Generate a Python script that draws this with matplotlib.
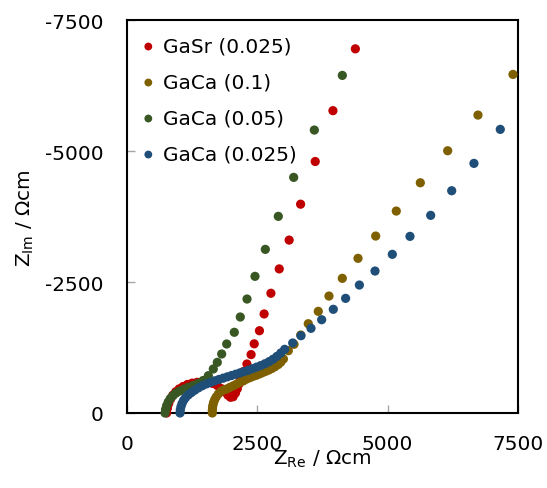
import matplotlib
matplotlib.use('Agg')
import matplotlib.pyplot as plt

plt.rcParams['font.family'] = ['DejaVu Sans']
plt.rcParams['mathtext.default'] = 'regular'
plt.rcParams['axes.unicode_minus'] = False

# Nyquist data (Z_Re, Z_Im) in Ohm cm
gasr_025_x = [760, 775, 800, 835, 880, 935, 1000, 1075, 1160, 1250, 1345, 1440, 1540, 1640,
              1730, 1810, 1880, 1935, 1985, 2035, 2080, 2115, 2145, 2175, 2230, 2300, 2380,
              2440, 2540, 2630, 2760, 2920, 3110, 3330, 3610, 3950, 4380]
gasr_025_y = [0, -90, -180, -265, -340, -405, -460, -505, -545, -570, -585, -590, -585, -565,
              -525, -465, -400, -340, -300, -310, -380, -460, -550, -650, -790, -935, -1115,
              -1320, -1570, -1890, -2285, -2750, -3300, -3985, -4800, -5770, -6950]

gaca_1_x = [1636, 1636, 1640, 1648, 1660, 1680, 1710, 1751, 1800, 1855, 1912, 1975, 2040, 2104,
            2170, 2235, 2296, 2360, 2420, 2480, 2540, 2600, 2660, 2720, 2780, 2840, 2900, 2950,
            3000, 3094, 3203, 3332, 3477, 3669, 3874, 4130, 4431, 4770, 5165, 5626, 6151, 6732,
            7404]
gaca_1_y = [0, -50, -100, -150, -200, -250, -305, -363, -410, -440, -458, -490, -520, -553,
            -585, -615, -649, -675, -700, -720, -745, -770, -795, -820, -850, -885, -925, -970,
            -1030, -1189, -1311, -1488, -1704, -1940, -2232, -2570, -2952, -3377, -3854, -4394,
            -5005, -5686, -6462]

gaca_05_x = [730, 740, 760, 790, 830, 880, 940, 1010, 1090, 1175, 1265, 1360, 1460, 1560, 1655,
             1732, 1816, 1912, 2058, 2173, 2302, 2455, 2653, 2902, 3197, 3593, 4130]
gaca_05_y = [0, -70, -140, -210, -275, -330, -380, -420, -455, -490, -525, -565, -620, -712,
             -840, -967, -1126, -1317, -1540, -1832, -2175, -2608, -3123, -3753, -4497, -5400,
             -6443]

gaca_025_x = [1017, 1022, 1035, 1055, 1085, 1125, 1175, 1235, 1300, 1370, 1445, 1525, 1605,
              1685, 1765, 1845, 1925, 2005, 2085, 2165, 2245, 2325, 2405, 2485, 2565, 2645,
              2725, 2800, 2875, 2950, 3024, 3178, 3337, 3529, 3734, 3957, 4193, 4457, 4757,
              5089, 5428, 5825, 6228, 6655, 7160]
gaca_025_y = [0, -60, -120, -180, -240, -295, -345, -390, -435, -480, -520, -555, -585, -615,
              -640, -665, -690, -715, -740, -765, -790, -815, -845, -875, -905, -940, -980,
              -1025, -1080, -1145, -1215, -1336, -1475, -1616, -1780, -1979, -2188, -2442,
              -2709, -3028, -3371, -3772, -4242, -4764, -5413]

series = [
    ('GaSr (0.025)', gasr_025_x, gasr_025_y, '#C00000'),
    ('GaCa (0.1)', gaca_1_x, gaca_1_y, '#7F6000'),
    ('GaCa (0.05)', gaca_05_x, gaca_05_y, '#385723'),
    ('GaCa (0.025)', gaca_025_x, gaca_025_y, '#1F4E79'),
]

fig = plt.figure(figsize=(5.47, 4.89), dpi=100)
ax = fig.add_axes([0.2322, 0.1534, 0.7148, 0.8036])

for label, xs, ys, col in series:
    ax.scatter(xs, ys, s=44, color=col, edgecolors='none', label=label, clip_on=False, zorder=3)

ax.set_xlim(0, 7500)
ax.set_ylim(0, -7500)
ax.set_xticks([0, 2500, 5000, 7500])
ax.set_yticks([0, -2500, -5000, -7500])

for sp in ax.spines.values():
    sp.set_linewidth(1.5)
    sp.set_color('black')

ax.tick_params(axis='both', direction='in', length=6, width=1, color='#a6a6a6',
               labelsize=14.4, pad=15)
ax.tick_params(axis='y', pad=17)

ax.set_xlabel(r'Z$_{Re}$ / Ωcm', fontsize=14.4)
ax.set_ylabel(r'Z$_{Im}$ / Ωcm', fontsize=14.4)
ax.xaxis.set_label_coords(0.499, -0.088)
ax.yaxis.set_label_coords(-0.232, 0.499)

leg = ax.legend(loc='upper left', bbox_to_anchor=(-0.012, 0.993), frameon=False,
                fontsize=14.4, handletextpad=0.15, labelspacing=0.85,
                markerscale=0.85, borderaxespad=0.3, handlelength=1.2)

fig.savefig('out.png', dpi=100)
